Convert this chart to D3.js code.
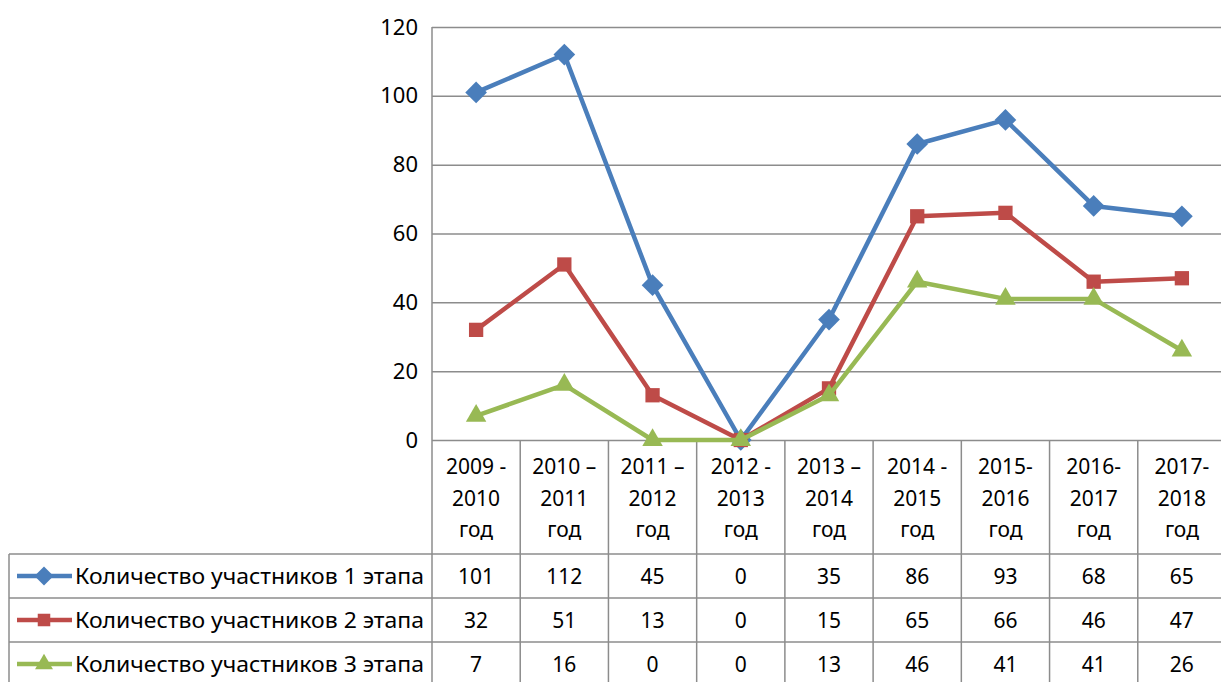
<!DOCTYPE html>
<html>
<head>
<meta charset="utf-8">
<script src="https://cdn.jsdelivr.net/npm/d3@7"></script>
<style>
  body { margin: 0; background: #fff; }
  svg text { font-family: "Noto Sans", "Open Sans", sans-serif; fill: #000; }
</style>
</head>
<body>
<div id="chart"></div>
<script>
// data
var categories = ["2009 -|2010|год", "2010 –|2011|год", "2011 –|2012|год", "2012 -|2013|год",
    "2013 –|2014|год", "2014 -|2015|год", "2015-|2016|год", "2016-|2017|год", "2017-|2018|год"]
var seriesNames = ["Количество участников 1 этапа", "Количество участников 2 этапа", "Количество участников 3 этапа"]
var stage1 = [101, 112, 45, 0, 35, 86, 93, 68, 65]
var stage2 = [32, 51, 13, 0, 15, 65, 66, 46, 47]
var stage3 = [7, 16, 0, 0, 13, 46, 41, 41, 26]
var yTicks = [0, 20, 40, 60, 80, 100, 120]

var colors = ["#4A7EBB", "#BE4B48", "#98B954"]
var symbols = [d3.symbolDiamond2, d3.symbolSquare2, d3.symbolTriangle2]

const W = 1221, H = 682
const PLOT_LEFT = 432, PLOT_RIGHT = 1226, PLOT_TOP = 27, PLOT_BOTTOM = 440
const HEADER_BOTTOM = 554, ROW_H = 44, LEGEND_LEFT = 9
const GRID = "#8c8c8c"

var svg = d3.select("#chart").append("svg")
    .attr("width", W)
    .attr("height", H)

var x = d3.scaleBand().domain(categories).range([PLOT_LEFT, PLOT_RIGHT]).padding(0)
var y = d3.scaleLinear().domain([0, 120]).range([PLOT_BOTTOM, PLOT_TOP])
var cx = function(c) { return x(c) + x.bandwidth() / 2 }

// gridlines + tick labels
var yAxis = d3.axisLeft(y).tickValues(yTicks).tickSize(-(PLOT_RIGHT - PLOT_LEFT)).tickPadding(14)
var yg = svg.append("g")
    .attr("transform", "translate(" + PLOT_LEFT + ",0)")
    .call(yAxis)
yg.select(".domain").remove()
yg.selectAll(".tick line").attr("stroke", GRID).attr("stroke-width", 1.5)
yg.selectAll(".tick text")
    .style("font-size", "22px")
    .style("font-family", "'Noto Sans', sans-serif")
    .attr("fill", "#000")

// value axis line
svg.append("line")
    .attr("x1", PLOT_LEFT).attr("x2", PLOT_LEFT)
    .attr("y1", PLOT_TOP).attr("y2", H)
    .attr("stroke", GRID).attr("stroke-width", 1.5)

// data table: vertical column borders
var tableG = svg.append("g").attr("class", "table")
tableG.selectAll(".col-line")
    .data(categories)
    .enter().append("line")
    .attr("x1", d => x(d) + x.bandwidth())
    .attr("x2", d => x(d) + x.bandwidth())
    .attr("y1", PLOT_BOTTOM).attr("y2", H)
    .attr("stroke", GRID).attr("stroke-width", 1.5)

// horizontal row borders
var rowLines = [HEADER_BOTTOM, HEADER_BOTTOM + ROW_H, HEADER_BOTTOM + 2 * ROW_H]
tableG.selectAll(".row-line")
    .data(rowLines)
    .enter().append("line")
    .attr("x1", LEGEND_LEFT).attr("x2", W)
    .attr("y1", d => d).attr("y2", d => d)
    .attr("stroke", GRID).attr("stroke-width", 1.5)

tableG.append("line")
    .attr("x1", LEGEND_LEFT).attr("x2", LEGEND_LEFT)
    .attr("y1", HEADER_BOTTOM).attr("y2", H)
    .attr("stroke", GRID).attr("stroke-width", 1.5)

// category header labels
var header = tableG.selectAll(".cat-label")
    .data(categories)
    .enter().append("text")
    .attr("class", "cat-label")
    .attr("text-anchor", "middle")
    .style("font-size", "21px")
header.selectAll("tspan")
    .data(d => d.split("|").map(s => ({ c: d, s: s })))
    .enter().append("tspan")
    .attr("x", d => cx(d.c))
    .attr("y", (d, i) => 474 + i * 31.5)
    .text(d => d.s)

// value rows + legend keys
var allSeries = [stage1, stage2, stage3]
allSeries.forEach(function(vals, si) {
    var rowMid = HEADER_BOTTOM + si * ROW_H + ROW_H / 2
    tableG.selectAll(".val-" + si)
        .data(vals)
        .enter().append("text")
        .attr("x", (d, i) => cx(categories[i]))
        .attr("y", rowMid + 8)
        .attr("text-anchor", "middle")
        .style("font-size", "21px")
        .text(d => d)

    // legend key
    tableG.append("line")
        .attr("x1", 17).attr("x2", 72)
        .attr("y1", rowMid).attr("y2", rowMid)
        .attr("stroke", colors[si]).attr("stroke-width", 4.5)
    tableG.append("path")
        .attr("d", d3.symbol().type(symbols[si]).size(si == 1 ? 200 : 230)())
        .attr("transform", "translate(44," + rowMid + ")")
        .attr("fill", colors[si])
    var t = tableG.append("text")
        .attr("x", 75)
        .attr("y", rowMid + 8)
        .style("font-size", "22px")
        .text(seriesNames[si])
    t.attr("textLength", 349).attr("lengthAdjust", "spacingAndGlyphs")
})

// lines + markers
var line = d3.line()
    .x((d, i) => cx(categories[i]))
    .y(d => y(d))

allSeries.forEach(function(vals, si) {
    var g = svg.append("g").attr("class", "series-" + si)
    g.append("path")
        .datum(vals)
        .attr("d", line)
        .attr("fill", "none")
        .attr("stroke", colors[si])
        .attr("stroke-width", 4.5)
        .attr("stroke-linejoin", "round")
    g.selectAll(".mark")
        .data(vals)
        .enter().append("path")
        .attr("d", d3.symbol().type(symbols[si]).size(si == 1 ? 260 : 300)())
        .attr("transform", (d, i) => "translate(" + cx(categories[i]) + "," + y(d) + ")")
        .attr("fill", colors[si])
})
</script>
</body>
</html>
